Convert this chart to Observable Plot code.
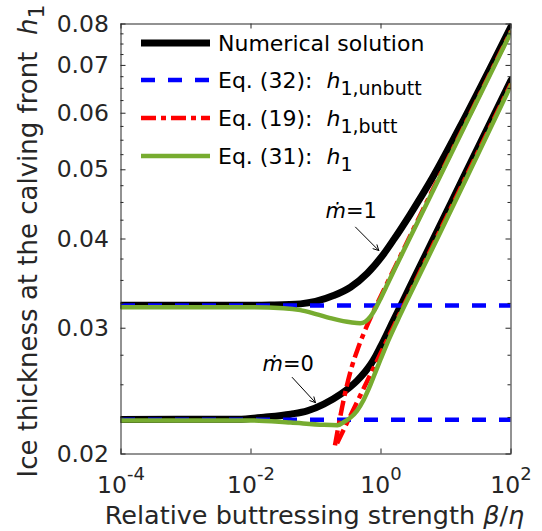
<!DOCTYPE html>
<html><head><meta charset="utf-8">
<script src="https://cdn.jsdelivr.net/npm/d3@7"></script>
<script src="https://cdn.jsdelivr.net/npm/@observablehq/plot@0.6"></script>
<style>
html,body{margin:0;padding:0;background:#fff;}
#chart{width:542px;height:531px;position:relative;}
</style></head><body><div id="chart"></div>
<script>
// ---- data (β/η, h1) ----
// m = 1
const numM1Beta = [1e-4, 0.01, 0.02, 0.0575, 0.186, 0.339, 0.617, 1.096, 1.585, 2.818, 6.31, 15.85, 100];
const numM1H    = [0.0323, 0.0323, 0.03233, 0.03245, 0.03333, 0.03424, 0.03582, 0.0381, 0.03998, 0.04332, 0.04888, 0.05707, 0.0793];
const eq31M1Beta = [1e-4, 0.01, 0.0316, 0.0575, 0.1, 0.186, 0.339, 0.479, 0.575, 0.692, 0.832, 1.0, 1.259, 1.66, 3.162, 7.943, 28.18, 100];
const eq31M1H    = [0.0321, 0.0321, 0.0320, 0.0318, 0.0314, 0.03092, 0.03058, 0.03048, 0.03065, 0.03116, 0.03203, 0.03311, 0.03459, 0.03646, 0.04111, 0.04878, 0.06166, 0.07792];
const eq19M1Beta = [0.1959, 0.2203, 0.2523, 0.2944, 0.354, 0.4487, 0.5957, 0.822, 1.66, 3.162, 7.943, 28.18, 100];
const eq19M1H    = [0.02057, 0.02181, 0.02326, 0.02481, 0.02646, 0.02822, 0.0301, 0.0321, 0.0366, 0.0413, 0.0490, 0.0619, 0.0782];
const eq32M1Beta = [1e-4, 100];
const eq32M1H    = [0.03228, 0.03228];
// m = 0
const numM0Beta = [1e-4, 0.00631, 0.01585, 0.0407, 0.0733, 0.1318, 0.2399, 0.4266, 0.5623, 0.6918, 0.8318, 0.9772, 1.585, 2.818, 7.079, 17.78, 100];
const numM0H    = [0.02236, 0.02237, 0.02252, 0.02274, 0.02298, 0.02349, 0.02426, 0.02532, 0.02603, 0.02669, 0.02744, 0.02822, 0.03087, 0.03436, 0.04077, 0.0484, 0.06674];
const eq31M0Beta = [1e-4, 0.01, 0.0407, 0.1318, 0.2138, 0.2692, 0.3388, 0.4266, 0.537, 0.692, 0.822, 1.0, 1.245, 1.778, 2.818, 7.943, 21.88, 100];
const eq31M0H    = [0.02229, 0.02229, 0.02213, 0.02197, 0.02195, 0.02218, 0.02249, 0.02298, 0.02379, 0.02503, 0.02604, 0.02723, 0.02858, 0.03069, 0.0335, 0.04064, 0.0492, 0.06569];
const eq19M0Beta = [0.211, 0.776, 100];
const eq19M0H    = [0.0207, 0.02643, 0.0660];
const eq32M0Beta = [1e-4, 100];
const eq32M0H    = [0.02233, 0.02233];

// ticks
const xTicks = [1e-4, 1e-2, 1, 1e2];
const yTicks = [0.02, 0.03, 0.04, 0.05, 0.06, 0.07, 0.08];
const yMinorTicks = [0.0225,0.025,0.0275,0.0325,0.035,0.0375,0.0425,0.045,0.0475,0.0525,0.055,0.0575,0.0625,0.065,0.0675,0.0725,0.075,0.0775];

// annotations (data coordinates)
const annoLabels = ["ṁ=1", "ṁ=0"];
const annoBeta = [0.14, 0.01503];
const annoH = [0.04368, 0.02673];
const arrowFromBeta = [0.4055, 0.04305];
const arrowFromH = [0.04156, 0.0256];
const arrowToBeta = [0.9247, 0.0982];
const arrowToH = [0.03854, 0.0236];

// legend
const legendLabels = ["Numerical solution", "Eq. (32):  ", "Eq. (19):  ", "Eq. (31):  "];
const legendSubs = [null, "1,unbutt", "1,butt", "1"];

const zip = (b, h) => b.map((v, i) => ({b: v, h: h[i]}));
const annos = annoLabels.map((t, i) => ({t, b: annoBeta[i], h: annoH[i]}));
const arrows = arrowFromBeta.map((v, i) => ({x1: v, y1: arrowFromH[i], x2: arrowToBeta[i], y2: arrowToH[i]}));

const BLACK = "#000000", BLUE = "#0000ff", RED = "#ff0000", GREEN = "#77ac30";
const styles = {
  num: {stroke: BLACK, strokeWidth: 7, curve: "monotone-x", clip: true},
  eq32: {stroke: BLUE, strokeWidth: 4.5, strokeDasharray: "14,13", strokeLinecap: "butt", clip: true},
  eq19: {stroke: RED, strokeWidth: 4.5, strokeDasharray: "15,5,5,5", strokeLinecap: "butt", curve: "monotone-x", clip: true},
  eq31: {stroke: GREEN, strokeWidth: 4.5, curve: "monotone-x", clip: true}
};
const AX = "#262626";
const W = 542, H = 531, ML = 120.5, MR = 31.5, MT = 23.5, MB = 77.5;
const FW = W - ML - MR, FH = H - MT - MB;
const TICKFS = 23.5;

const chart = Plot.plot({
  width: W, height: H,
  marginLeft: ML, marginRight: MR, marginTop: MT, marginBottom: MB,
  style: {fontFamily: "DejaVu Sans, sans-serif", fontSize: TICKFS + "px", color: AX, background: "#fff"},
  x: {type: "log", domain: [1e-4, 1e2]},
  y: {type: "log", domain: [0.02, 0.08]},
  marks: [
    Plot.line(zip(numM1Beta, numM1H), {x: "b", y: "h", ...styles.num}),
    Plot.line(zip(numM0Beta, numM0H), {x: "b", y: "h", ...styles.num}),
    Plot.line(zip(eq32M1Beta, eq32M1H), {x: "b", y: "h", ...styles.eq32}),
    Plot.line(zip(eq32M0Beta, eq32M0H), {x: "b", y: "h", ...styles.eq32}),
    Plot.line(zip(eq19M1Beta, eq19M1H), {x: "b", y: "h", ...styles.eq19}),
    Plot.line(zip(eq19M0Beta, eq19M0H), {x: "b", y: "h", ...styles.eq19, curve: "linear"}),
    Plot.line(zip(eq31M1Beta, eq31M1H), {x: "b", y: "h", ...styles.eq31}),
    Plot.line(zip(eq31M0Beta, eq31M0H), {x: "b", y: "h", ...styles.eq31}),
    Plot.frame({stroke: AX, strokeWidth: 1}),
    // inward ticks
    Plot.tickY(yTicks, {y: d => d, stroke: AX, insetRight: FW - 5}),
    Plot.tickY(yTicks, {y: d => d, stroke: AX, insetLeft: FW - 5}),
    Plot.tickY(yMinorTicks, {y: d => d, stroke: AX, insetRight: FW - 3}),
    Plot.tickY(yMinorTicks, {y: d => d, stroke: AX, insetLeft: FW - 3}),
    Plot.tickX(xTicks, {x: d => d, stroke: AX, insetTop: FH - 5}),
    Plot.tickX(xTicks, {x: d => d, stroke: AX, insetBottom: FH - 5}),
    Plot.axisY({ticks: yTicks, tickSize: 0, tickPadding: 12, tickFormat: d => d.toFixed(2), label: null, fontSize: TICKFS, fill: AX}),
    Plot.axisX({ticks: xTicks, tickSize: 0, tickPadding: 22, tickFormat: d => "10^" + Math.round(Math.log10(d)), label: null, fontSize: TICKFS, fill: AX}),
    // annotations
    Plot.text(annos, {x: "b", y: "h", text: "t", textAnchor: "start", fontSize: 21, fill: "#000"}),
    Plot.arrow(arrows, {x1: "x1", y1: "y1", x2: "x2", y2: "y2", stroke: "#000", strokeWidth: 1, headLength: 9, headAngle: 55})
  ]
});
document.getElementById("chart").appendChild(chart);

const svg = d3.select(chart);
// superscripts for x tick labels, italic ṁ
svg.selectAll("text").each(function() {
  const t = this.textContent;
  const s = d3.select(this);
  if (t.startsWith("10^")) {
    const e = t.slice(3);
    s.text(null);
    s.append("tspan").text("10");
    s.append("tspan").attr("dy", -13).attr("font-size", 18).text(e);
  } else if (t.startsWith("ṁ")) {
    s.text(null);
    s.append("tspan").attr("font-style", "italic").text("ṁ");
    s.append("tspan").text(t.slice(1));
  }
});

const FONT = "DejaVu Sans, sans-serif";
// axis titles
const xl = svg.append("text").attr("x", ML + FW / 2 - 1).attr("y", 524)
  .attr("text-anchor", "middle").attr("font-family", FONT).attr("font-size", 25.5).attr("fill", AX)
  .style("white-space", "pre");
xl.append("tspan").text("Relative buttressing strength ");
xl.append("tspan").attr("font-style", "italic").text("β");
xl.append("tspan").text("/");
xl.append("tspan").attr("font-style", "italic").text("η");

const yl = svg.append("text").attr("transform", "translate(37,241) rotate(-90)")
  .attr("text-anchor", "middle").attr("font-family", FONT).attr("font-size", 26).attr("fill", AX)
  .style("white-space", "pre");
yl.append("tspan").text("Ice thickness at the calving front  ");
yl.append("tspan").attr("font-style", "italic").text("h");
yl.append("tspan").attr("dy", 7).attr("font-size", 22).text("1");

// legend
const rowY = [43, 80, 118, 156];
const sampleStyles = [styles.num, styles.eq32, styles.eq19, styles.eq31];
const lg = svg.append("g").attr("font-family", FONT).attr("font-size", 22).attr("fill", "#000").attr("text-anchor", "start");
legendLabels.forEach((lab, i) => {
  const st = sampleStyles[i];
  lg.append("line").attr("x1", 141).attr("x2", 210).attr("y1", rowY[i]).attr("y2", rowY[i])
    .attr("stroke", st.stroke).attr("stroke-width", st.strokeWidth)
    .attr("stroke-dasharray", st.strokeDasharray || null)
    .attr("stroke-linecap", "butt");
  const tx = lg.append("text").attr("x", 218).attr("y", rowY[i] + 8).attr("text-anchor", "start").style("white-space", "pre");
  tx.append("tspan").text(lab);
  if (legendSubs[i]) {
    tx.append("tspan").attr("font-style", "italic").text("h");
    tx.append("tspan").attr("dy", 7).attr("font-size", 19).text(legendSubs[i]);
  }
});
</script>
</body></html>
